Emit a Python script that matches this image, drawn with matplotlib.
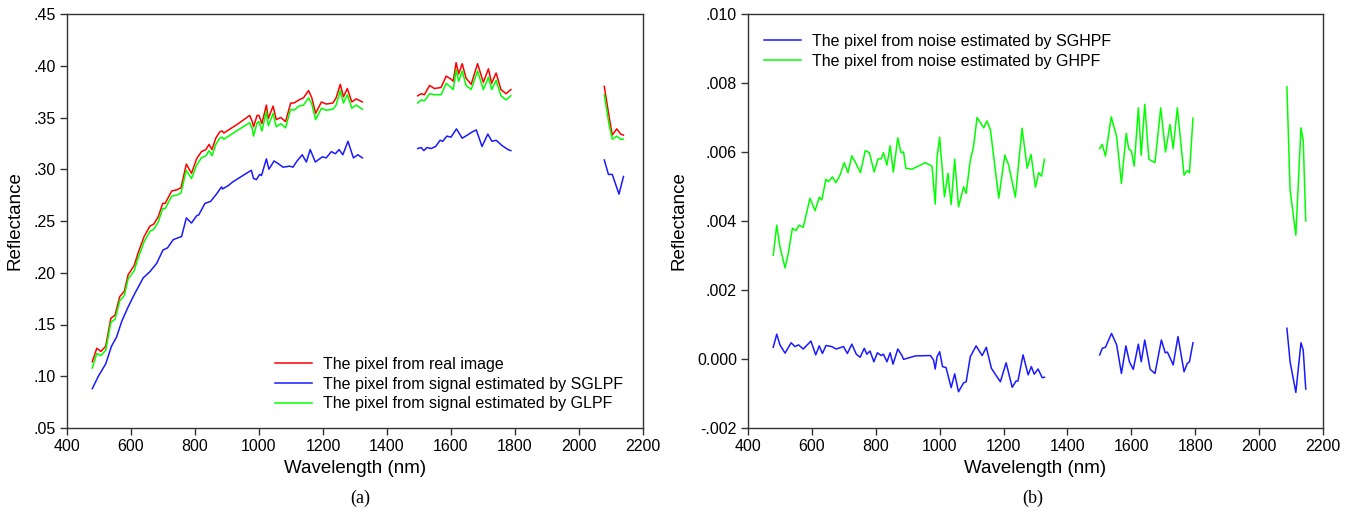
import matplotlib
matplotlib.use("Agg")
import matplotlib.pyplot as plt
from matplotlib.ticker import FuncFormatter

plt.rcParams['font.family'] = ['Liberation Sans', 'DejaVu Sans']

# ---- panel (a): reflectance, three segments per curve ----
real_wl = [
    [479, 493, 506, 521, 537, 550, 565, 579, 591, 610, 622, 641, 659, 671, 685, 699, 707, 727, 742, 756,
     773, 789, 805, 820, 834, 844, 853, 865, 877, 885, 890, 935, 971, 979, 983, 994, 1000, 1009, 1023, 1029,
     1044, 1054, 1068, 1083, 1099, 1109, 1125, 1139, 1155, 1165, 1177, 1195, 1210, 1231, 1241, 1254, 1264,
     1276, 1290, 1304, 1323],
    [1496, 1507, 1517, 1533, 1548, 1569, 1585, 1600, 1607, 1616, 1624, 1635, 1647, 1663, 1683, 1701, 1717,
     1727, 1741, 1756, 1772, 1787],
    [2079, 2094, 2104, 2118, 2130, 2139],
]
real_val = [
    [0.114, 0.127, 0.124, 0.129, 0.156, 0.159, 0.177, 0.182, 0.198, 0.207, 0.219, 0.235, 0.245, 0.247, 0.254,
     0.267, 0.267, 0.279, 0.280, 0.282, 0.305, 0.296, 0.310, 0.317, 0.319, 0.324, 0.319, 0.330, 0.336, 0.337,
     0.335, 0.344, 0.352, 0.346, 0.341, 0.352, 0.352, 0.344, 0.362, 0.349, 0.361, 0.348, 0.350, 0.346, 0.364,
     0.364, 0.367, 0.369, 0.376, 0.369, 0.354, 0.365, 0.363, 0.364, 0.369, 0.382, 0.370, 0.378, 0.365, 0.368,
     0.365],
    [0.371, 0.373, 0.372, 0.381, 0.378, 0.379, 0.390, 0.387, 0.385, 0.403, 0.392, 0.402, 0.388, 0.382, 0.402,
     0.384, 0.397, 0.383, 0.393, 0.377, 0.373, 0.377],
    [0.380, 0.351, 0.333, 0.339, 0.334, 0.333],
]
glpf_val = [
    [0.108, 0.122, 0.120, 0.125, 0.152, 0.155, 0.173, 0.178, 0.194, 0.202, 0.214, 0.230, 0.240, 0.242, 0.249,
     0.262, 0.262, 0.274, 0.275, 0.277, 0.299, 0.291, 0.304, 0.311, 0.313, 0.318, 0.313, 0.324, 0.330, 0.331,
     0.329, 0.338, 0.345, 0.339, 0.332, 0.345, 0.346, 0.337, 0.356, 0.342, 0.354, 0.341, 0.344, 0.340, 0.358,
     0.357, 0.361, 0.362, 0.369, 0.363, 0.348, 0.359, 0.357, 0.358, 0.362, 0.376, 0.364, 0.372, 0.359, 0.362,
     0.358],
    [0.364, 0.367, 0.366, 0.373, 0.372, 0.372, 0.383, 0.379, 0.377, 0.396, 0.385, 0.395, 0.381, 0.377, 0.395,
     0.377, 0.389, 0.377, 0.386, 0.371, 0.367, 0.371],
    [0.372, 0.343, 0.329, 0.332, 0.329, 0.329],
]
sglpf_wl = [
    [479, 498, 521, 539, 555, 571, 591, 612, 638, 659, 680, 700, 714, 732, 758, 773, 789, 805, 812, 831, 849,
     867, 883, 886, 903, 919, 976, 983, 992, 1002, 1008, 1023, 1031, 1047, 1062, 1075, 1096, 1106, 1119, 1135,
     1148, 1160, 1176, 1198, 1210, 1226, 1239, 1250, 1262, 1278, 1295, 1309, 1323],
    [1496, 1507, 1515, 1525, 1538, 1552, 1566, 1574, 1587, 1600, 1617, 1635, 1651, 1666, 1679, 1697, 1715,
     1728, 1741, 1759, 1778, 1787],
    [2079, 2092, 2104, 2115, 2125, 2139],
]
sglpf_val = [
    [0.088, 0.100, 0.112, 0.129, 0.138, 0.153, 0.167, 0.180, 0.195, 0.201, 0.209, 0.222, 0.224, 0.232, 0.235,
     0.253, 0.248, 0.255, 0.256, 0.267, 0.269, 0.276, 0.283, 0.281, 0.284, 0.288, 0.299, 0.291, 0.290, 0.295,
     0.294, 0.310, 0.300, 0.308, 0.305, 0.302, 0.303, 0.302, 0.308, 0.314, 0.307, 0.319, 0.307, 0.312, 0.311,
     0.317, 0.315, 0.319, 0.314, 0.327, 0.311, 0.314, 0.311],
    [0.320, 0.321, 0.318, 0.321, 0.320, 0.322, 0.328, 0.327, 0.332, 0.331, 0.339, 0.330, 0.333, 0.336, 0.338,
     0.322, 0.334, 0.327, 0.328, 0.323, 0.319, 0.318],
    [0.309, 0.295, 0.295, 0.285, 0.276, 0.293],
]

# ---- panel (b): noise ----
ghpf_wl = [
    [479, 490, 500, 516, 526, 539, 550, 560, 573, 594, 610, 623, 631, 644, 652, 664, 675, 688, 701, 713, 725,
     739, 752, 767, 780, 795, 807, 817, 824, 835, 845, 855, 869, 879, 887, 894, 913, 955, 976, 986, 992, 1000,
     1015, 1026, 1036, 1047, 1059, 1075, 1083, 1096, 1106, 1117, 1138, 1148, 1159, 1185, 1204, 1216, 1237,
     1258, 1274, 1286, 1300, 1310, 1319, 1328],
    [1501, 1509, 1519, 1537, 1554, 1569, 1584, 1592, 1600, 1609, 1622, 1631, 1642, 1655, 1674, 1692, 1707,
     1721, 1731, 1744, 1765, 1775, 1782, 1793],
    [2087, 2097, 2115, 2131, 2138, 2146],
]
ghpf_val = [
    [0.00301, 0.00388, 0.00325, 0.00264, 0.00306, 0.00379, 0.00372, 0.00388, 0.00382, 0.00466, 0.00430,
     0.00469, 0.00461, 0.00521, 0.00514, 0.00528, 0.00511, 0.00533, 0.00569, 0.00540, 0.00589, 0.00565,
     0.00540, 0.00604, 0.00598, 0.00542, 0.00580, 0.00580, 0.00598, 0.00562, 0.00618, 0.00542, 0.00641,
     0.00598, 0.00600, 0.00553, 0.00550, 0.00569, 0.00559, 0.00449, 0.00586, 0.00643, 0.00470, 0.00538,
     0.00448, 0.00579, 0.00441, 0.00499, 0.00480, 0.00577, 0.00615, 0.00700, 0.00670, 0.00690, 0.00664,
     0.00466, 0.00591, 0.00562, 0.00469, 0.00669, 0.00553, 0.00593, 0.00498, 0.00540, 0.00530, 0.00579],
    [0.00610, 0.00622, 0.00588, 0.00702, 0.00644, 0.00509, 0.00654, 0.00608, 0.00604, 0.00559, 0.00728,
     0.00591, 0.00738, 0.00579, 0.00569, 0.00728, 0.00600, 0.00680, 0.00610, 0.00728, 0.00533, 0.00546,
     0.00540, 0.00698],
    [0.00789, 0.00490, 0.00359, 0.00670, 0.00635, 0.00400],
]
sghpf_wl = [
    [479, 490, 500, 516, 535, 547, 558, 573, 597, 612, 623, 633, 644, 662, 676, 699, 711, 725, 739, 751, 764,
     772, 782, 794, 805, 817, 824, 835, 845, 854, 869, 882, 887, 924, 971, 981, 986, 992, 1000, 1009, 1020,
     1036, 1047, 1059, 1075, 1083, 1096, 1114, 1133, 1146, 1162, 1174, 1190, 1208, 1227, 1239, 1245, 1261,
     1277, 1287, 1296, 1308, 1321, 1328],
    [1501, 1509, 1519, 1538, 1554, 1569, 1583, 1594, 1606, 1622, 1631, 1642, 1659, 1674, 1694, 1706, 1713,
     1731, 1746, 1765, 1775, 1782, 1793],
    [2087, 2097, 2115, 2131, 2138, 2146],
]
sghpf_val = [
    [0.00034, 0.00072, 0.00041, 0.00017, 0.00047, 0.00036, 0.00041, 0.00029, 0.00052, 0.00012, 0.00038,
     0.00016, 0.00039, 0.00036, 0.00029, 0.00036, 0.00016, 0.00043, 0.00014, 0.00005, 0.00031, 0.00014,
     0.00023, -0.00008, 0.00018, 0.00010, 0.00014, -0.00008, 0.00018, -0.00015, 0.00029, 0.00010, -0.00001,
     0.00009, 0.00010, -0.00003, -0.00029, 0.00007, 0.00021, -0.00022, -0.00025, -0.00083, -0.00043,
     -0.00095, -0.00069, -0.00066, 0.00007, 0.00038, 0.00010, 0.00034, -0.00027, -0.00044, -0.00066,
     -0.00011, -0.00082, -0.00064, -0.00064, 0.00012, -0.00046, -0.00022, -0.00044, -0.00029, -0.00054,
     -0.00053],
    [0.00012, 0.00031, 0.00034, 0.00074, 0.00041, -0.00042, 0.00038, -0.00008, -0.00030, 0.00043, -0.00008,
     0.00055, -0.00030, -0.00042, 0.00055, 0.00018, 0.00020, -0.00017, 0.00065, -0.00037, -0.00013, -0.00008,
     0.00047],
    [0.00089, -0.00008, -0.00097, 0.00047, 0.00026, -0.00087],
]

xticks = [400, 600, 800, 1000, 1200, 1400, 1600, 1800, 2000, 2200]
yticks_a = [0.05, 0.10, 0.15, 0.20, 0.25, 0.30, 0.35, 0.40, 0.45]
yticks_b = [-0.002, 0.000, 0.002, 0.004, 0.006, 0.008, 0.010]

RED = '#ff0000'
BLUE = '#1a1aff'
GREEN = '#00ff00'
LW = 1.1


def fmt_a(v, pos):
    return ('%.2f' % v).lstrip('0')


def fmt_b(v, pos):
    if abs(v) < 1e-9:
        return '0.000'
    s = '%.3f' % v
    return s.replace('0.', '.', 1)


def style(ax):
    for side in ['top', 'right', 'left', 'bottom']:
        ax.spines[side].set_color('#333333')
        ax.spines[side].set_linewidth(1.0)
    ax.tick_params(axis='both', which='both', direction='out', length=5, width=1,
                   color='#333333', labelsize=11.5, top=False, right=False, pad=3)
    ax.set_xlim(400, 2200)
    ax.set_xticks(xticks)
    ax.set_xlabel('Wavelength (nm)', fontsize=13.5, labelpad=4)
    ax.set_ylabel('Reflectance', fontsize=13.5, labelpad=7)


fig = plt.figure(figsize=(13.54, 5.12), dpi=100)
ax1 = fig.add_axes([67 / 1354, 1 - 428 / 512, 576 / 1354, 414 / 512])
ax2 = fig.add_axes([748 / 1354, 1 - 428 / 512, 575 / 1354, 414 / 512])

for i in range(3):
    ax1.plot(real_wl[i], real_val[i], color=RED, lw=LW,
             label='The pixel from real image' if i == 0 else None)
    ax1.plot(sglpf_wl[i], sglpf_val[i], color=BLUE, lw=LW,
             label='The pixel from signal estimated by SGLPF' if i == 0 else None)
    ax1.plot(real_wl[i], glpf_val[i], color=GREEN, lw=LW,
             label='The pixel from signal estimated by GLPF' if i == 0 else None)

style(ax1)
ax1.set_ylim(0.05, 0.45)
ax1.set_yticks(yticks_a)
ax1.yaxis.set_major_formatter(FuncFormatter(fmt_a))
ax1.legend(loc='upper left', bbox_to_anchor=(0.361, 0.172), frameon=False, fontsize=11.5,
           handlelength=2.3, handletextpad=0.7, labelspacing=0.3, borderaxespad=0, borderpad=0)

for i in range(3):
    ax2.plot(sghpf_wl[i], sghpf_val[i], color=BLUE, lw=LW,
             label='The pixel from noise estimated by SGHPF' if i == 0 else None)
    ax2.plot(ghpf_wl[i], ghpf_val[i], color=GREEN, lw=LW,
             label='The pixel from noise estimated by GHPF' if i == 0 else None)

style(ax2)
ax2.set_ylim(-0.002, 0.010)
ax2.set_yticks(yticks_b)
ax2.yaxis.set_major_formatter(FuncFormatter(fmt_b))
ax2.legend(loc='upper left', bbox_to_anchor=(0.028, 0.952), frameon=False, fontsize=11.5,
           handlelength=2.3, handletextpad=0.7, labelspacing=0.3, borderaxespad=0, borderpad=0)

fig.text(360 / 1354, 1 - 498 / 512, '(a)', ha='center', va='center', fontsize=13,
         family=['Liberation Serif', 'DejaVu Serif'])
fig.text(1033 / 1354, 1 - 498 / 512, '(b)', ha='center', va='center', fontsize=13,
         family=['Liberation Serif', 'DejaVu Serif'])

fig.savefig('out.png', dpi=100)
